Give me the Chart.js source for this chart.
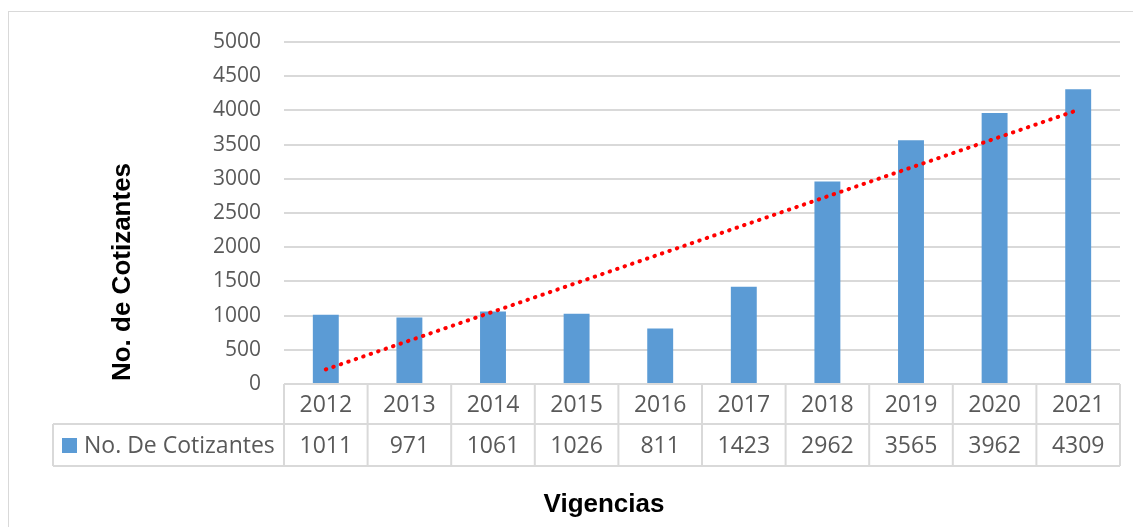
<!DOCTYPE html>
<html>
<head>
<meta charset="utf-8">
<script src="https://cdn.jsdelivr.net/npm/chart.js@4.4.0/dist/chart.umd.min.js"></script>
<style>
  body { margin: 0; background: #fff; }
  canvas { display: block; }
</style>
</head>
<body>
<canvas id="myChart" width="1133" height="527"></canvas>
<script>
const years = ["2012", "2013", "2014", "2015", "2016", "2017", "2018", "2019", "2020", "2021"];
const cotizantes = [1011, 971, 1061, 1026, 811, 1423, 2962, 3565, 3962, 4309];
const yTicks = [0, 500, 1000, 1500, 2000, 2500, 3000, 3500, 4000, 4500, 5000];
const seriesName = "No. De Cotizantes";

// linea de tendencia lineal (minimos cuadrados, como Excel)
const linearTrend = (vals) => {
    let n = vals.length, sx = 0, sy = 0, sxy = 0, sxx = 0;
    vals.forEach((v, i) => {
        let x = i + 1;
        sx += x; sy += v; sxy += x * v; sxx += x * x;
    });
    let m = (n * sxy - sx * sy) / (n * sxx - sx * sx);
    let b = (sy - m * sx) / n;
    return vals.map((v, i) => m * (i + 1) + b);
};
const trend = linearTrend(cotizantes);

const gridColor = "#d9d9d9";
const textColor = "#595959";

// tabla de datos debajo del grafico + titulos de ejes
const tablePlugin = {
    id: "dataTable",
    afterDraw(chart) {
        const ctx = chart.ctx;
        const area = chart.chartArea;
        const x = chart.scales.x;
        const top = area.bottom;
        const mid = top + 40;
        const bottom = top + 82;
        const leftCol = 53;
        const step = (area.right - area.left) / years.length;

        ctx.save();
        // borde exterior
        ctx.strokeStyle = gridColor;
        ctx.lineWidth = 1;
        ctx.strokeRect(8.5, 11.5, 1200, 600);

        ctx.lineWidth = 2;
        ctx.beginPath();
        ctx.moveTo(area.left, top); ctx.lineTo(area.right, top);
        ctx.moveTo(leftCol, mid); ctx.lineTo(area.right, mid);
        ctx.moveTo(leftCol, bottom); ctx.lineTo(area.right, bottom);
        ctx.moveTo(leftCol, mid); ctx.lineTo(leftCol, bottom);
        for (let i = 0; i <= years.length; i++) {
            let lx = area.left + i * step;
            ctx.moveTo(lx, top); ctx.lineTo(lx, bottom);
        }
        ctx.stroke();

        ctx.fillStyle = textColor;
        ctx.font = "23px 'Open Sans'";
        ctx.textAlign = "center";
        ctx.textBaseline = "middle";
        years.forEach((y, i) => {
            let cx = x.getPixelForValue(i);
            ctx.fillText(y, cx, (top + mid) / 2 + 1);
            ctx.fillText(String(cotizantes[i]), cx, (mid + bottom) / 2 + 1);
        });

        // leyenda dentro de la tabla
        ctx.fillStyle = "#5b9bd5";
        ctx.fillRect(62, mid + 14, 15, 15);
        ctx.fillStyle = textColor;
        ctx.textAlign = "left";
        ctx.fillText(seriesName, 84, (mid + bottom) / 2 + 1);

        // titulos
        ctx.fillStyle = "#000";
        ctx.font = "bold 26px 'Liberation Sans', Arial";
        ctx.textAlign = "center";
        ctx.fillText("Vigencias", 604, 505);
        ctx.translate(123, 272);
        ctx.rotate(-Math.PI / 2);
        ctx.fillText("No. de Cotizantes", 0, 0);
        ctx.restore();
    }
};

let ctx = document.getElementById("myChart").getContext("2d");
let chart = new Chart(ctx, {
    type: "bar",
    data: {
        labels: years,
        datasets: [{
            label: seriesName,
            data: cotizantes,
            backgroundColor: "#5b9bd5",
            barPercentage: 0.31,
            categoryPercentage: 1,
            order: 2
        }, {
            type: "line",
            label: "Lineal (" + seriesName + ")",
            data: trend,
            borderColor: "#ff0000",
            borderWidth: 4,
            borderDash: [0.5, 7.4],
            borderCapStyle: "round",
            pointRadius: 0,
            fill: false,
            order: 1
        }]
    },
    options: {
        responsive: false,
        animation: false,
        layout: { padding: { left: 0, right: 13, top: 42, bottom: 143 } },
        plugins: {
            legend: { display: false },
            tooltip: { enabled: false }
        },
        scales: {
            x: { display: false, offset: true },
            y: {
                min: 0,
                max: 5000,
                afterBuildTicks: (s) => { s.ticks = yTicks.map(v => ({ value: v })); },
                afterFit: (s) => { s.width = 284; },
                border: { display: false },
                grid: { color: gridColor, lineWidth: 2, drawTicks: false },
                ticks: {
                    padding: 23,
                    color: textColor,
                    font: { family: "'Open Sans'", size: 21 },
                    callback: (v) => String(v)
                }
            }
        }
    },
    plugins: [tablePlugin]
});
</script>
</body>
</html>
